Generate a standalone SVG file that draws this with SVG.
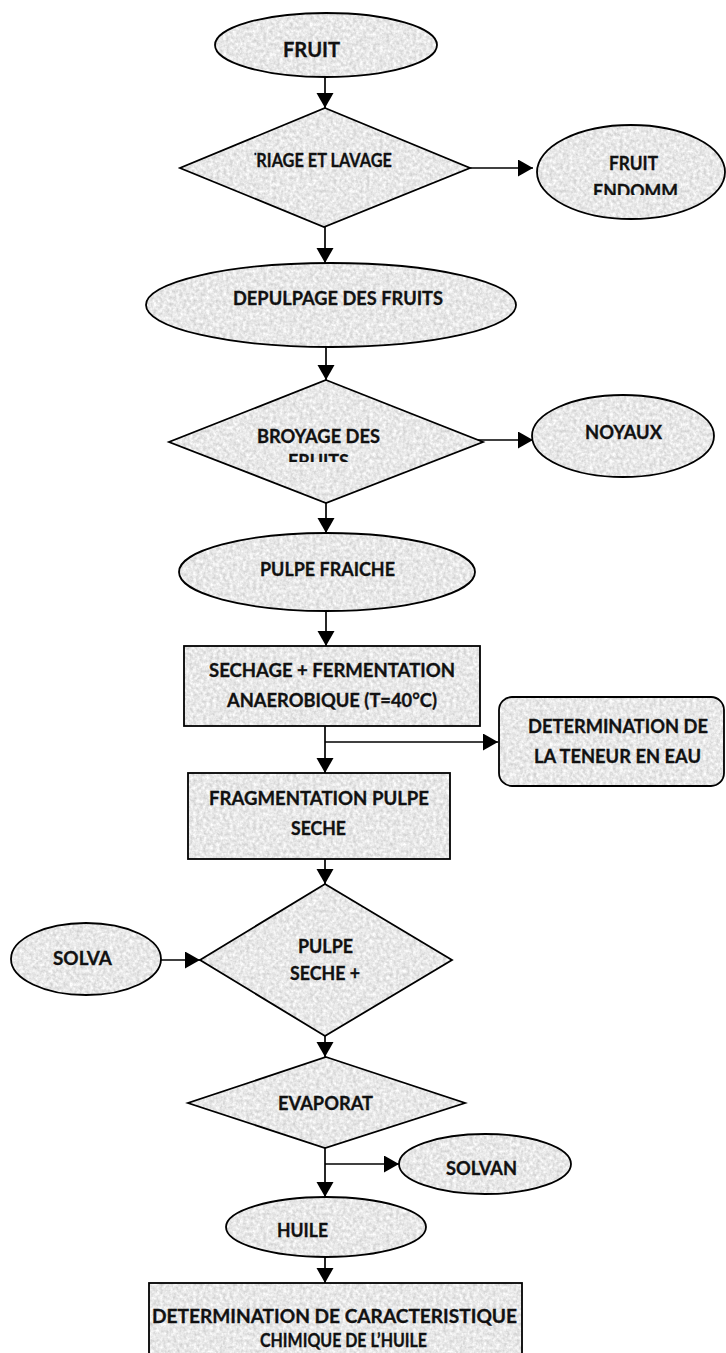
<svg xmlns="http://www.w3.org/2000/svg" width="726" height="1353" viewBox="0 0 726 1353">
<style>
.s{fill:url(#granite);stroke:#000;stroke-width:1.8}
.ca{stroke:#000;stroke-width:1.7;fill:none;marker-end:url(#ah)}
.t{font-family:Lato,"Liberation Sans",Arial,sans-serif;font-weight:bold;font-size:18px;fill:#111;stroke:#111;stroke-width:0.3}
.big{font-size:20.5px}
</style>
<defs>
<filter id="noise" x="0" y="0" width="1" height="1" color-interpolation-filters="sRGB">
<feTurbulence type="fractalNoise" baseFrequency="0.3" numOctaves="3" seed="3"/>
<feColorMatrix type="matrix" values="0.28 0 0 0 0.77  0.28 0 0 0 0.77  0.28 0 0 0 0.77  0 0 0 0 1"/>
</filter>
<pattern id="granite" patternUnits="userSpaceOnUse" width="240" height="240">
<rect width="240" height="240" filter="url(#noise)"/>
</pattern>
<marker id="ah" markerUnits="userSpaceOnUse" markerWidth="17" markerHeight="18" refX="15" refY="8.5" orient="auto">
<path d="M0,0 L15,8.5 L0,17 Z" fill="#000"/>
</marker>
<clipPath id="clipTriage"><rect x="254.5" y="140" width="200" height="40"/></clipPath>
<clipPath id="clipEndomm"><rect x="540" y="130" width="186" height="65"/></clipPath>
<clipPath id="clipBroyage"><rect x="200" y="400" width="250" height="62"/></clipPath>
</defs>

<g id="connectors">
<line class="ca" x1="325" y1="77" x2="325" y2="108"/>
<line class="ca" x1="470" y1="168" x2="533" y2="168"/>
<line class="ca" x1="325" y1="227" x2="325" y2="263"/>
<line class="ca" x1="326" y1="347" x2="326" y2="380"/>
<line class="ca" x1="460" y1="440" x2="533" y2="440"/>
<line class="ca" x1="326" y1="503" x2="326" y2="533"/>
<line class="ca" x1="326" y1="612" x2="326" y2="646"/>
<line class="ca" x1="325" y1="726" x2="325" y2="773"/>
<line class="ca" x1="325" y1="742" x2="498" y2="742"/>
<line class="ca" x1="325" y1="859" x2="325" y2="884"/>
<line class="ca" x1="161" y1="960" x2="200" y2="960"/>
<line class="ca" x1="325" y1="1036" x2="325" y2="1057"/>
<line class="ca" x1="325" y1="1148" x2="325" y2="1197"/>
<line class="ca" x1="325" y1="1164" x2="399" y2="1164"/>
<line class="ca" x1="325" y1="1257" x2="325" y2="1283"/>
</g>

<g id="n-fruit">
<ellipse class="s" cx="326" cy="45" rx="111" ry="32"/>
<text class="t big" x="283" y="57" textLength="57" lengthAdjust="spacingAndGlyphs">FRUIT</text>
</g>

<g id="n-triage">
<polygon class="s" points="325,108 470,168 324,227 180,168"/>
<g clip-path="url(#clipTriage)">
<text class="t" x="246.5" y="167" textLength="145.5" lengthAdjust="spacingAndGlyphs">TRIAGE ET LAVAGE</text>
</g>
</g>

<g id="n-endommage">
<ellipse class="s" cx="631" cy="172" rx="94" ry="47"/>
<text class="t" x="609" y="170" textLength="49" lengthAdjust="spacingAndGlyphs">FRUIT</text>
<g clip-path="url(#clipEndomm)">
<text class="t" x="593" y="198" textLength="85" lengthAdjust="spacingAndGlyphs">ENDOMM</text>
</g>
</g>

<g id="n-depulpage">
<ellipse class="s" cx="331" cy="305" rx="185" ry="42"/>
<text class="t" x="233" y="305" textLength="210" lengthAdjust="spacingAndGlyphs">DEPULPAGE DES FRUITS</text>
</g>

<g id="n-broyage">
<polygon class="s" points="326,380 483,442 326,503 169,442"/>
<text class="t" x="257" y="443" textLength="123" lengthAdjust="spacingAndGlyphs">BROYAGE DES</text>
<g clip-path="url(#clipBroyage)">
<text class="t" x="288" y="468" textLength="61" lengthAdjust="spacingAndGlyphs">FRUITS</text>
</g>
</g>

<g id="n-noyaux">
<ellipse class="s" cx="623" cy="436" rx="91" ry="41"/>
<text class="t" x="585" y="439" textLength="77" lengthAdjust="spacingAndGlyphs">NOYAUX</text>
</g>

<g id="n-pulpe-fraiche">
<ellipse class="s" cx="327" cy="572" rx="148" ry="39"/>
<text class="t" x="260" y="576" textLength="135" lengthAdjust="spacingAndGlyphs">PULPE FRAICHE</text>
</g>

<g id="n-sechage">
<rect class="s" x="184" y="646" width="296" height="80"/>
<text class="t" x="209" y="677" textLength="246" lengthAdjust="spacingAndGlyphs">SECHAGE + FERMENTATION</text>
<text class="t" x="227" y="707" textLength="210" lengthAdjust="spacingAndGlyphs">ANAEROBIQUE (T=40°C)</text>
</g>

<g id="n-teneur-eau">
<rect class="s" x="499" y="697" width="225" height="89" rx="13" ry="13"/>
<text class="t" x="528" y="733" textLength="180" lengthAdjust="spacingAndGlyphs">DETERMINATION DE</text>
<text class="t" x="534" y="763" textLength="167" lengthAdjust="spacingAndGlyphs">LA TENEUR EN EAU</text>
</g>

<g id="n-fragmentation">
<rect class="s" x="188" y="773" width="262" height="86"/>
<text class="t" x="209" y="805" textLength="220" lengthAdjust="spacingAndGlyphs">FRAGMENTATION PULPE</text>
<text class="t" x="291" y="835" textLength="55" lengthAdjust="spacingAndGlyphs">SECHE</text>
</g>

<g id="n-solva">
<ellipse class="s" cx="86" cy="959" rx="75" ry="36"/>
<text class="t" x="53" y="965" textLength="59" lengthAdjust="spacingAndGlyphs">SOLVA</text>
</g>

<g id="n-pulpe-seche">
<polygon class="s" points="325,884 452,960 325,1036 200,960"/>
<text class="t" x="298" y="953" textLength="55" lengthAdjust="spacingAndGlyphs">PULPE</text>
<text class="t" x="290" y="980" textLength="70" lengthAdjust="spacingAndGlyphs">SECHE +</text>
</g>

<g id="n-evaporat">
<polygon class="s" points="326,1057 465,1103 325,1148 188,1103"/>
<text class="t" x="278" y="1110" textLength="95" lengthAdjust="spacingAndGlyphs">EVAPORAT</text>
</g>

<g id="n-solvan">
<ellipse class="s" cx="485" cy="1164" rx="86" ry="30"/>
<text class="t" x="446" y="1175" textLength="71" lengthAdjust="spacingAndGlyphs">SOLVAN</text>
</g>

<g id="n-huile">
<ellipse class="s" cx="326" cy="1227" rx="100" ry="30"/>
<text class="t" x="277" y="1237" textLength="51" lengthAdjust="spacingAndGlyphs">HUILE</text>
</g>

<g id="n-caracteristique">
<rect class="s" x="149" y="1283" width="373" height="80"/>
<text class="t" x="152" y="1323" textLength="365" lengthAdjust="spacingAndGlyphs">DETERMINATION DE CARACTERISTIQUE</text>
<text class="t" x="260" y="1347" textLength="167" lengthAdjust="spacingAndGlyphs">CHIMIQUE DE L’HUILE</text>
</g>
</svg>
